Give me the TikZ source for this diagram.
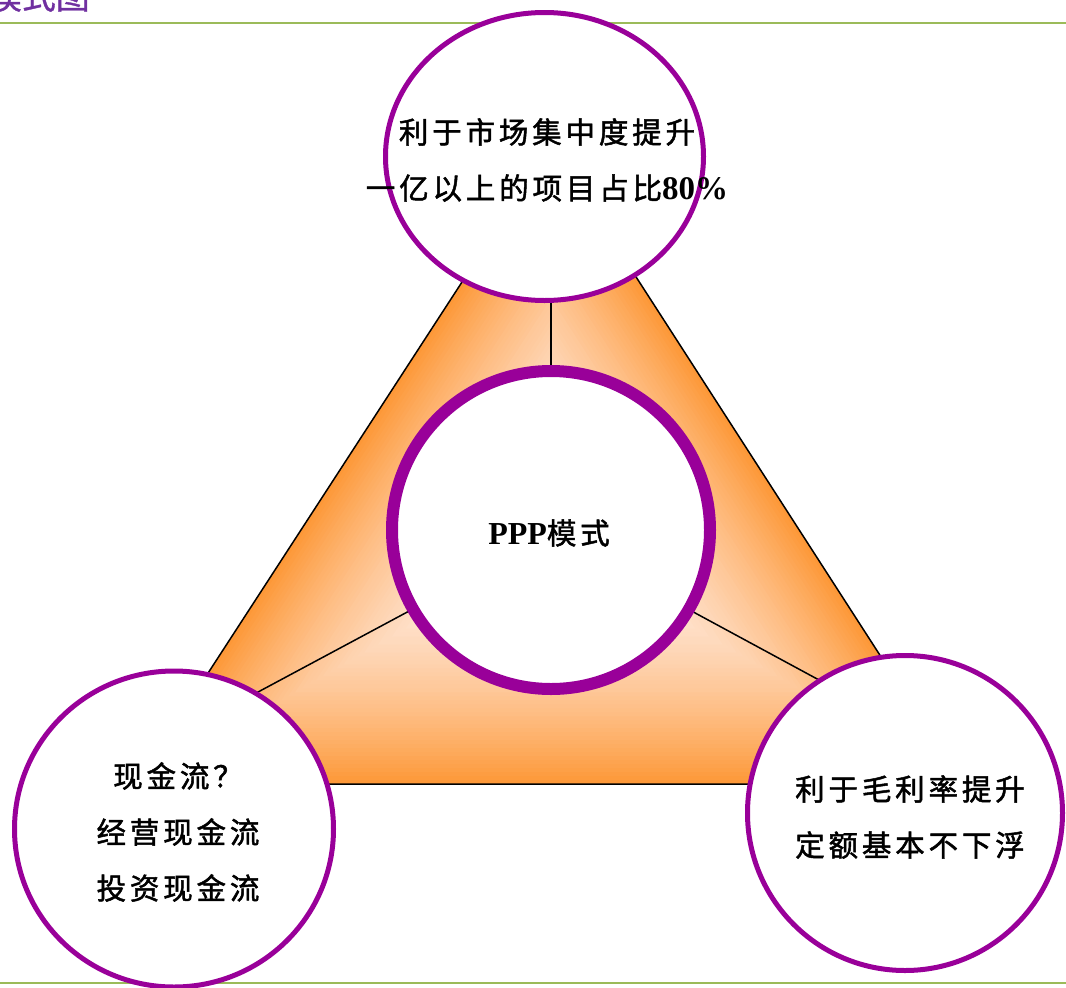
\documentclass[tikz,border=0pt]{standalone}
\usepackage{fontspec}
\usetikzlibrary{calc,shapes.geometric}
\newfontfamily\cjk[LetterSpace=13,FakeBold=1.6]{Noto Sans CJK SC}
\newfontfamily\cjktitle[FakeBold=1]{Noto Sans CJK SC}
\newfontfamily\tnr{Liberation Serif}
\definecolor{ppurple}{RGB}{153,0,153}
\definecolor{titlepurple}{RGB}{112,48,160}
\definecolor{lgreen}{RGB}{155,187,89}
\definecolor{orng}{RGB}{253,152,56}
\definecolor{lite}{RGB}{255,236,226}
\tikzset{
  bubble/.style={draw=ppurple, line width=5pt, fill=white, ellipse, inner sep=0pt},
  txt/.style={align=center, text=black, inner sep=0pt, font=\cjk\fontsize{29.5}{56}\selectfont},
  seam/.style={draw=black, line width=1.5pt},
  rule/.style={draw=lgreen, line width=2pt}
}
\begin{document}
\begin{tikzpicture}[x=1pt,y=-1pt]
\useasboundingbox (0,0) rectangle (1066,988);
\clip (0,0) rectangle (1066,988);
% title (cut off at top)
\node[anchor=base east, inner sep=0pt, text=titlepurple, font=\cjktitle\fontsize{34}{34}\selectfont] (title) at (90,9) {模式图};
% green rules
\coordinate (r1a) at (0,22.5); \coordinate (r1b) at (1066,22.5);
\coordinate (r2a) at (0,982.5); \coordinate (r2b) at (1066,982.5);
\draw[rule] (r1a) -- (r1b);
\draw[rule] (r2a) -- (r2b);
% triangle with path gradient
\coordinate (A) at (551,145);
\coordinate (B) at (136,784);
\coordinate (D) at (963,784);
\coordinate (C) at (551,545);
\foreach \i in {60,59,...,1} {
  \pgfmathsetmacro\s{\i/60}
  \pgfmathtruncatemacro\p{100*(\s^1.7)}
  \colorlet{fc}{orng!\p!lite}
  \fill[fc] ($(C)!\s!(A)$) -- ($(C)!\s!(B)$) -- ($(C)!\s!(D)$) -- cycle;
}
\draw[black, line width=1.5pt, line join=miter] (A) -- (B) -- (D) -- cycle;
% seams
\coordinate (o) at (551,535);
\coordinate (sT) at (551,295);
\coordinate (sL) at (245,699);
\coordinate (sR) at (832,687);
\draw[seam] (o) -- (sT);
\draw[seam] (o) -- (sL);
\draw[seam] (o) -- (sR);
% circles
\node[bubble, minimum width=318pt, minimum height=288pt] (top) at (544.5,156.5) {};
\node[bubble, minimum width=319pt, minimum height=316pt] (left) at (174,829) {};
\node[bubble, minimum width=315pt, minimum height=315pt] (right) at (905,813) {};
\node[draw=ppurple, line width=12pt, fill=white, circle, minimum size=318pt, inner sep=0pt] (ctr) at (551,530) {};
% texts
\node[txt] (ttop) at (547,160) {利于市场集中度提升\\一亿以上的项目占比{\tnr\bfseries\fontsize{33}{56}\selectfont 80\%}};
\node[txt] (tleft) at (178,832) {现金流？\\经营现金流\\投资现金流};
\node[txt] (tright) at (910,817) {利于毛利率提升\\定额基本不下浮};
\node[txt, font=\cjk\fontsize{29.5}{34}\selectfont] (tctr) at (549,533) {{\tnr\bfseries\fontsize{32}{34}\selectfont PPP}模式};
\end{tikzpicture}
\end{document}
